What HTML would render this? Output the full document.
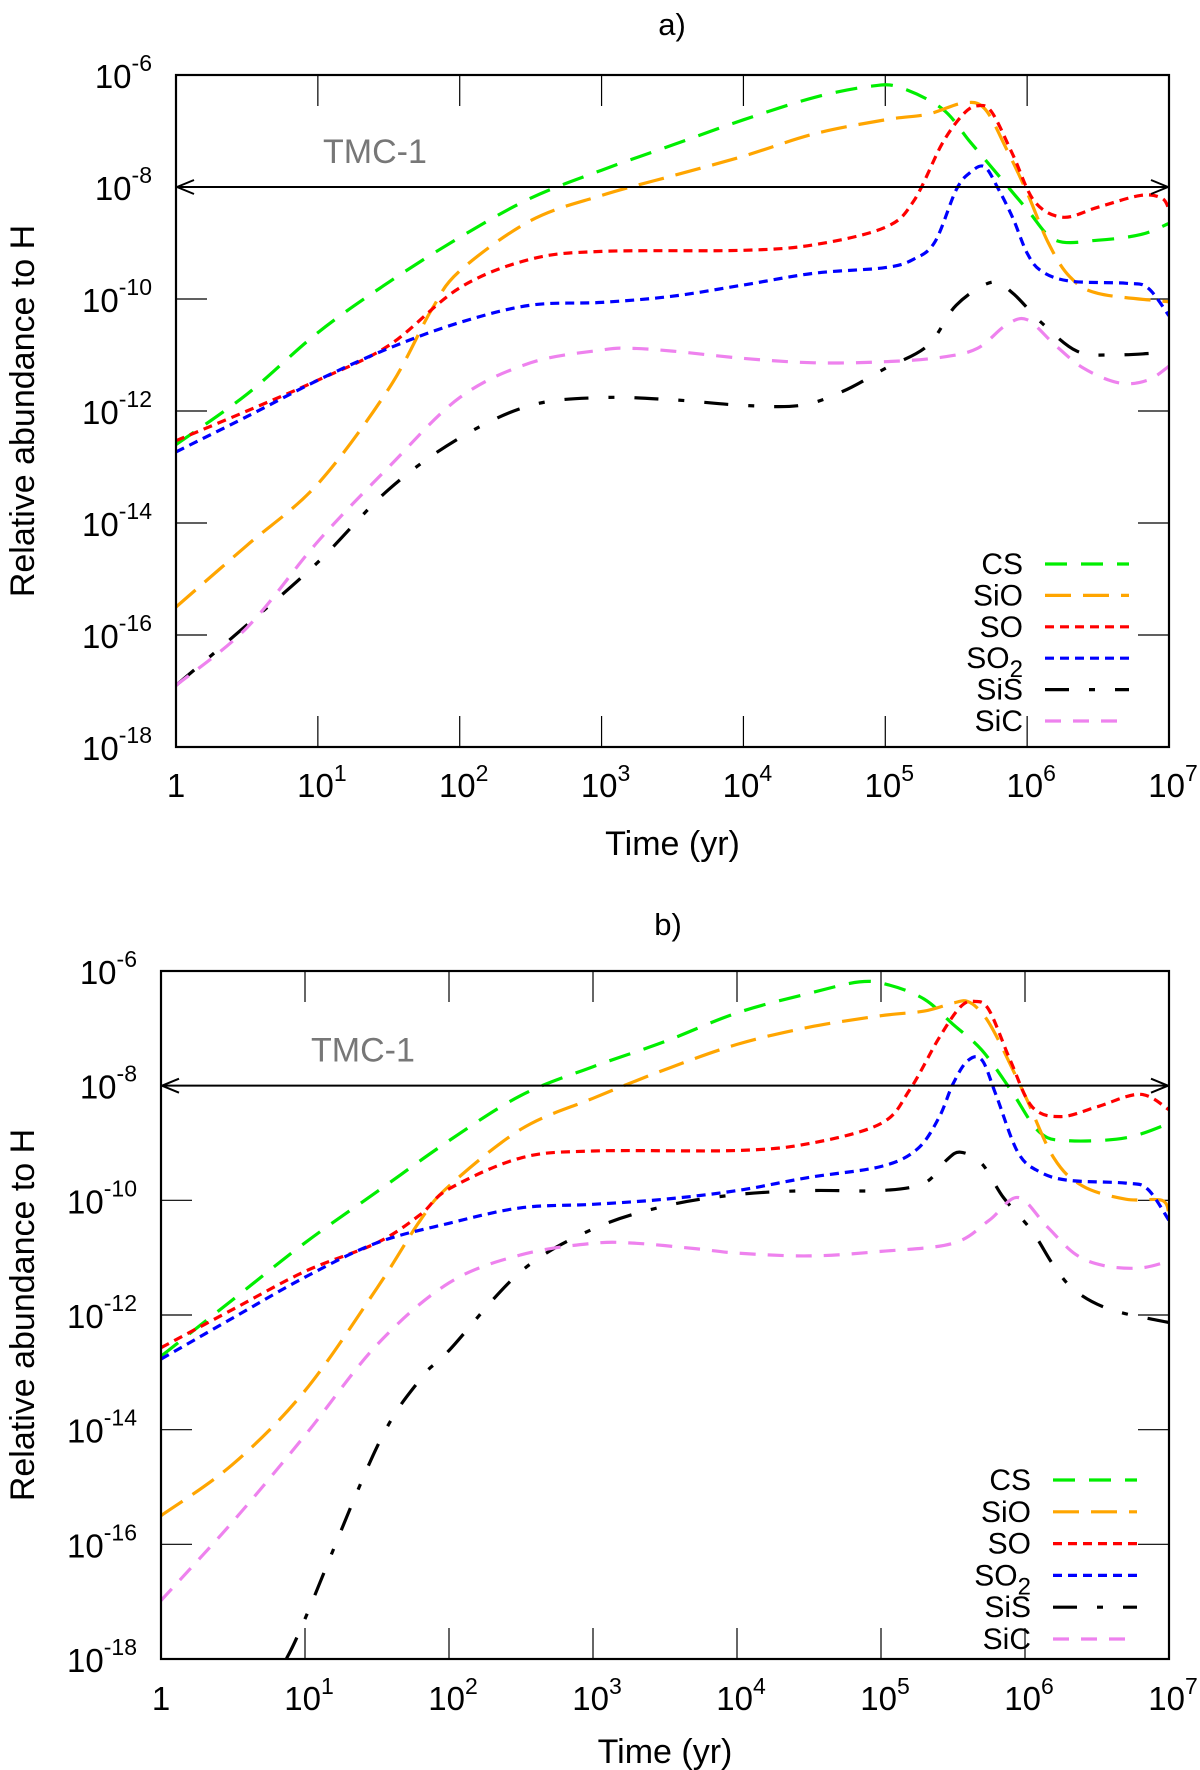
<!DOCTYPE html>
<html><head><meta charset="utf-8"><style>
html,body{margin:0;padding:0;background:#fff;}
svg{display:block;font-family:"Liberation Sans",sans-serif;}
</style></head><body>
<svg id="fig" width="1200" height="1770" viewBox="0 0 1200 1770" xmlns="http://www.w3.org/2000/svg">
<defs>
<marker id="arr" viewBox="0 0 20 20" refX="19" refY="10" markerWidth="20" markerHeight="20" markerUnits="userSpaceOnUse" orient="auto-start-reverse">
<path d="M2,3 L19,10 L2,17" fill="none" stroke="#000" stroke-width="2"/></marker>
</defs>
</svg>
<script>
// ---- data: [log10(time/yr), log10(abundance)] ----
const seriesNames = ["CS","SiO","SO","SO2","SiS","SiC"];
const xTickExps = [0,1,2,3,4,5,6,7];
const yTickExps = [-6,-8,-10,-12,-14,-16,-18];
const tmcLevel = -8;

const aCS = [[0,-12.6],[0.5,-11.7],[1,-10.6],[1.5,-9.7],[2,-8.9],[2.5,-8.2],[3,-7.7],[3.5,-7.25],[4,-6.8],[4.5,-6.4],[4.9,-6.2],[5.1,-6.22],[5.4,-6.6],[5.6,-7.2],[5.8,-7.8],[6,-8.4],[6.2,-8.95],[6.5,-8.95],[6.8,-8.85],[7,-8.65]];
const aSiO = [[0,-15.5],[0.5,-14.4],[1,-13.3],[1.5,-11.6],[1.8,-10.2],[2,-9.5],[2.5,-8.6],[3,-8.15],[3.5,-7.8],[4,-7.45],[4.5,-7.05],[5,-6.8],[5.3,-6.7],[5.55,-6.5],[5.7,-6.6],[5.85,-7.3],[6,-8.1],[6.15,-9.0],[6.3,-9.6],[6.5,-9.9],[7,-10.05]];
const aSO = [[0,-12.53],[0.5,-12.0],[1,-11.45],[1.5,-10.83],[2,-9.8],[2.5,-9.29],[3,-9.15],[4,-9.13],[4.5,-9.03],[5,-8.72],[5.2,-8.25],[5.4,-7.23],[5.55,-6.7],[5.65,-6.55],[5.75,-6.66],[5.9,-7.43],[6.05,-8.25],[6.25,-8.54],[6.5,-8.36],[6.8,-8.15],[6.95,-8.2],[7,-8.4]];
const aSO2 = [[0,-12.73],[0.5,-12.1],[1,-11.45],[1.5,-10.88],[2,-10.42],[2.5,-10.11],[3,-10.06],[3.5,-9.95],[4,-9.75],[4.5,-9.54],[5,-9.44],[5.2,-9.29],[5.35,-8.98],[5.5,-8.05],[5.6,-7.74],[5.7,-7.64],[5.8,-8.05],[5.9,-8.56],[6,-9.18],[6.1,-9.5],[6.3,-9.68],[6.7,-9.72],[6.85,-9.8],[7,-10.3]];
const aSiS = [[0,-16.9],[0.5,-15.82],[1,-14.7],[1.5,-13.4],[2,-12.48],[2.5,-11.9],[3,-11.76],[3.5,-11.8],[4,-11.9],[4.4,-11.9],[4.7,-11.65],[5,-11.24],[5.3,-10.83],[5.5,-10.11],[5.75,-9.7],[5.9,-9.9],[6.1,-10.42],[6.35,-10.93],[6.6,-11.0],[7,-10.95]];
const aSiC = [[0,-16.9],[0.5,-15.87],[1,-14.33],[1.5,-13.0],[2,-11.76],[2.5,-11.14],[3,-10.91],[3.2,-10.88],[3.5,-10.93],[4,-11.06],[4.5,-11.14],[5,-11.12],[5.4,-11.04],[5.65,-10.88],[5.85,-10.47],[6,-10.37],[6.2,-10.83],[6.4,-11.24],[6.65,-11.5],[6.85,-11.45],[7,-11.2]];

const bCS = [[0,-12.72],[0.5,-11.73],[1,-10.74],[1.5,-9.85],[2,-8.96],[2.5,-8.17],[3,-7.67],[3.5,-7.23],[4,-6.73],[4.5,-6.39],[4.85,-6.19],[5.05,-6.24],[5.3,-6.49],[5.5,-6.93],[5.7,-7.38],[5.9,-8.07],[6.1,-8.81],[6.3,-8.96],[6.7,-8.91],[7,-8.66]];
const bSiO = [[0,-15.5],[0.5,-14.6],[1,-13.32],[1.5,-11.53],[1.8,-10.35],[2,-9.75],[2.5,-8.76],[3,-8.22],[3.5,-7.72],[4,-7.28],[4.5,-6.98],[5,-6.78],[5.3,-6.7],[5.5,-6.56],[5.6,-6.53],[5.7,-6.73],[5.8,-7.13],[6,-8.17],[6.2,-9.26],[6.4,-9.75],[6.7,-9.98],[6.95,-10.0],[7,-10.25]];
const bSO = [[0,-12.57],[0.5,-11.9],[1,-11.24],[1.5,-10.74],[1.8,-10.25],[2,-9.8],[2.5,-9.26],[3,-9.14],[4,-9.13],[4.5,-9.01],[5,-8.66],[5.2,-8.07],[5.4,-7.18],[5.55,-6.63],[5.65,-6.53],[5.75,-6.68],[5.9,-7.57],[6.05,-8.37],[6.25,-8.54],[6.5,-8.37],[6.8,-8.15],[7,-8.42]];
const bSO2 = [[0,-12.77],[0.5,-12.05],[1,-11.34],[1.5,-10.74],[2,-10.4],[2.5,-10.13],[3,-10.07],[3.5,-9.98],[4,-9.83],[4.5,-9.6],[5,-9.41],[5.25,-9.11],[5.4,-8.57],[5.5,-7.97],[5.6,-7.57],[5.7,-7.55],[5.8,-8.17],[5.95,-9.16],[6.1,-9.5],[6.3,-9.65],[6.7,-9.7],[6.85,-9.8],[7,-10.35]];
const bSiS = [[0.87,-18],[1,-17.3],[1.5,-14.3],[1.8,-13.12],[2,-12.62],[2.5,-11.24],[3,-10.5],[3.5,-10.1],[4,-9.9],[4.5,-9.83],[5,-9.83],[5.3,-9.7],[5.45,-9.31],[5.55,-9.16],[5.7,-9.36],[5.85,-9.95],[6.05,-10.54],[6.2,-11.14],[6.35,-11.58],[6.6,-11.91],[7,-12.13]];
const bSiC = [[0,-16.98],[0.5,-15.6],[1,-14.1],[1.5,-12.52],[2,-11.44],[2.5,-10.95],[3,-10.75],[3.3,-10.75],[3.7,-10.84],[4,-10.92],[4.5,-10.97],[5,-10.89],[5.5,-10.75],[5.75,-10.35],[5.95,-9.95],[6.15,-10.45],[6.35,-10.94],[6.55,-11.14],[6.8,-11.18],[7,-11.06]];

const styles = {
  CS:{c:"#00ee00",d:"22,14"},
  SiO:{c:"#ffa500",d:"26,12"},
  SO:{c:"#ff0000",d:"9,6"},
  SO2:{c:"#0000ff",d:"9,6"},
  SiS:{c:"#000000",d:"24,20,6,20"},
  SiC:{c:"#ee82ee",d:"16,12"}
};
const NS="http://www.w3.org/2000/svg";
const svg=document.getElementById('fig');
function mk(tag,attrs,parent){const e=document.createElementNS(NS,tag);for(const k in attrs)e.setAttribute(k,attrs[k]);(parent||svg).appendChild(e);return e;}
function smoothPath(pts){
  let d="M"+pts[0][0].toFixed(1)+","+pts[0][1].toFixed(1);
  for(let i=0;i<pts.length-1;i++){
    const p0=pts[i-1]||pts[i],p1=pts[i],p2=pts[i+1],p3=pts[i+2]||p2;
    const c1=[p1[0]+(p2[0]-p0[0])/6,p1[1]+(p2[1]-p0[1])/6];
    const c2=[p2[0]-(p3[0]-p1[0])/6,p2[1]-(p3[1]-p1[1])/6];
    d+=" C"+c1[0].toFixed(1)+","+c1[1].toFixed(1)+" "+c2[0].toFixed(1)+","+c2[1].toFixed(1)+" "+p2[0].toFixed(1)+","+p2[1].toFixed(1);
  }
  return d;
}
function panel(cfg){
  const g=mk('g',{});
  
  
  const L=cfg.L,R=cfg.R,T=cfg.T,B=cfg.B;
  const xs=v=>L+(R-L)*v/7;
  const ys=v=>T+(B-T)*(-6-v)/12;
  const clip=mk('clipPath',{id:'clip'+cfg.id},g);
  mk('rect',{x:L,y:T,width:R-L,height:B-T},clip);
  const t=mk('text',{x:cfg.titleX,y:cfg.titleY,'font-size':31,'text-anchor':'middle'},g);
  t.textContent=cfg.id+")";
  
  
  xTickExps.forEach(e=>{
    const x=xs(e);
    if(e>0&&e<7){
      const tk=mk('path',{d:`M${x},${T}v31M${x},${B}v-31`,stroke:'#000','stroke-width':1.2},g);
      
      
    }
    const lb=mk('text',{x:x+(e===0?0:4),y:cfg.xLabY,'font-size':33,'text-anchor':'middle'},g);
    
    
    if(e===0){lb.textContent="1";}
    else{lb.textContent="10";const s=mk('tspan',{dy:-16,'font-size':23},lb);s.textContent=String(e);}
  });
  yTickExps.forEach(e=>{
    const y=ys(e);
    if(e>-18&&e<-6){
      const tk=mk('path',{d:`M${L},${y}h31M${R},${y}h-31`,stroke:'#000','stroke-width':1.2},g);
      
      
    }
    const lb=mk('text',{x:L-24,y:y+13,'font-size':33,'text-anchor':'end'},g);
    
    
    lb.textContent="10";const s=mk('tspan',{dy:-17,'font-size':23},lb);s.textContent=String(e);
  });
  const lg=mk('g',{'clip-path':`url(#clip${cfg.id})`},g);
  seriesNames.forEach((n,i)=>{
    const pts=cfg.data[i].map(p=>[xs(p[0]),ys(p[1])]);
    const p=mk('path',{d:smoothPath(pts),fill:'none',stroke:styles[n].c,'stroke-width':3.2,'stroke-dasharray':styles[n].d},lg);
    
    
  });
  const ay=ys(tmcLevel);
  const ar=mk('line',{x1:L+1,y1:ay,x2:R-1,y2:ay,stroke:'#000','stroke-width':2,'marker-start':'url(#arr)','marker-end':'url(#arr)'},g);
  
  
  const tt=mk('text',{x:cfg.tmcX,y:ay-24,'font-size':34,fill:'#777'},g);
  tt.textContent="TMC-1";
  
  
  const fr=mk('rect',{x:L,y:T,width:R-L,height:B-T,fill:'none',stroke:'#000','stroke-width':2.2},g);
  
  
  const xt=mk('text',{x:(L+R)/2,y:cfg.xTitleY,'font-size':34,'text-anchor':'middle'},g);
  xt.textContent="Time (yr)";
  
  
  const yt=mk('text',{x:0,y:0,'font-size':34,'text-anchor':'middle',transform:`translate(34,${(T+B)/2}) rotate(-90)`},g);
  yt.textContent="Relative abundance to H";
  
  
  seriesNames.forEach((n,i)=>{
    const y=cfg.legY+i*cfg.legDy;
    const le=mk('g',{},g);
    
    
    const tx=mk('text',{x:cfg.legX,y:y+10,'font-size':30,'text-anchor':'end'},le);
    if(n==="SO2"){tx.textContent="SO";const s=mk('tspan',{dy:9,'font-size':24},tx);s.textContent="2";}
    else tx.textContent=n;
    mk('line',{x1:cfg.legX+22,y1:y,x2:cfg.legX+106,y2:y,stroke:styles[n].c,'stroke-width':3.2,'stroke-dasharray':styles[n].d},le);
  });
}
panel({id:'a',L:176,R:1169,T:75,B:747,titleX:672,titleY:35,xLabY:797,xTitleY:855,tmcX:323,
  legX:1023,legY:564,legDy:31.4,data:[aCS,aSiO,aSO,aSO2,aSiS,aSiC]});
panel({id:'b',L:161,R:1169,T:971,B:1659,titleX:668,titleY:935,xLabY:1710,xTitleY:1763,tmcX:311,
  legX:1031,legY:1480,legDy:31.8,data:[bCS,bSiO,bSO,bSO2,bSiS,bSiC]});
</script>
</body></html>
